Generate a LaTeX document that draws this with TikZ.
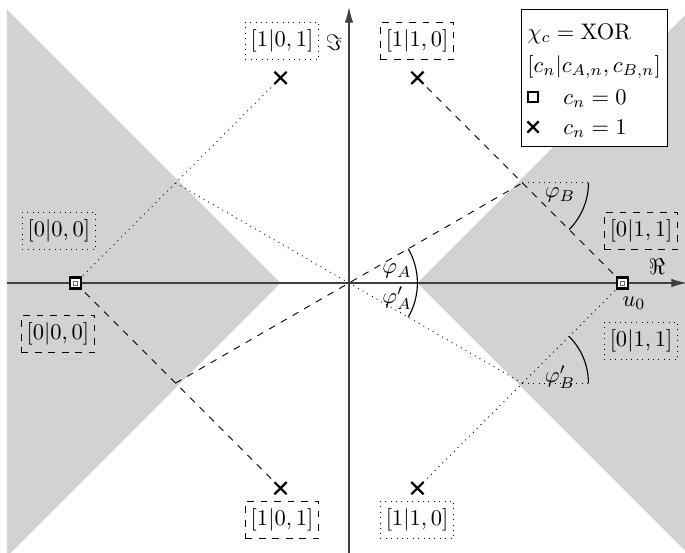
\documentclass[tikz,border=0pt]{standalone}
\usetikzlibrary{arrows.meta,shapes.misc}
\begin{document}
\begin{tikzpicture}[x=0.4444pt,y=0.4444pt,
  axisline/.style={black!75,line width=0.6pt,-{Latex[length=7pt,width=3.8pt]}},
  sqmark/.style={draw,line width=1.1pt,minimum size=5pt,inner sep=0pt,fill=white,
    path picture={\draw[line width=0.3pt,black!60] ([shift={(-0.9pt,-0.9pt)}]path picture bounding box.center) rectangle ([shift={(0.9pt,0.9pt)}]path picture bounding box.center);}},
  xmark/.style={cross out,draw,line width=1pt,minimum size=4.4pt,inner sep=0pt},
  legsq/.style={draw,line width=1pt,minimum size=4.4pt,inner sep=0pt},
  legx/.style={cross out,draw,line width=1pt,minimum size=4pt,inner sep=0pt},
  lbl/.style={inner xsep=2.4pt,inner ysep=3.3pt},
  dotbox/.style={lbl,draw,dotted},
  dashbox/.style={lbl,draw,dashed},
  angarc/.style={line width=0.5pt}
]
\useasboundingbox (-349,-269) rectangle (336,283);
\clip (-349,-269) rectangle (336,283);
% shaded regions
\fill[gray!35] (-68.4,0) -- (-342,273.6) -- (-342,-273.6) -- cycle;
\fill[gray!35] (68.4,0) -- (342,273.6) -- (342,-273.6) -- cycle;
% axes
\coordinate (O) at (0,0);
\coordinate (xs) at (-342,0);
\coordinate (xe) at (338,0);
\coordinate (ys) at (0,-274);
\coordinate (ye) at (0,276);
\draw[axisline] (xs) -- (xe);
\draw[axisline] (ys) -- (ye);
% points
\coordinate (S0) at (-273.6,0);
\coordinate (U0) at (273.6,0);
\coordinate (C1) at (-68.4,205.2);
\coordinate (C2) at (68.4,205.2);
\coordinate (C3) at (-68.4,-205.2);
\coordinate (C4) at (68.4,-205.2);
\coordinate (P1) at (-173.45,-100.14);
\coordinate (P2) at (173.45,100.14);
\coordinate (P3) at (-173.45,100.14);
\coordinate (P4) at (173.45,-100.14);
% connectors
\draw[dotted] (S0) -- (C1);
\draw[dashed] (S0) -- (C3);
\draw[dashed] (C2) -- (U0);
\draw[dotted] (U0) -- (C4);
\draw[dashed] (P1) -- (P2);
\draw[dotted] (P3) -- (P4);
% angles
\draw[angarc] (O) ++(-30:68.4) arc (-30:30:68.4);
\draw[dotted] (P2) -- ++(66,0) coordinate (P2h);
\draw[angarc] (P2h) arc (0:-45:66);
\draw[dotted] (P4) -- ++(66,0) coordinate (P4h);
\draw[angarc] (P4h) arc (0:45:66);
\node (phiA) at (48,12) {$\varphi_A$};
\node (phiAp) at (48,-15) {$\varphi'_A$};
\node (phiB) at (211,88) {$\varphi_B$};
\node (phiBp) at (211,-94) {$\varphi'_B$};
% markers
\node[sqmark] (m0) at (S0) {};
\node[sqmark] (m1) at (U0) {};
\node[xmark] (x1) at (C1) {};
\node[xmark] (x2) at (C2) {};
\node[xmark] (x3) at (C3) {};
\node[xmark] (x4) at (C4) {};
% labels
\node[dotbox] (b1) at (-67,242) {$[1|0,1]$};
\node[dashbox] (b2) at (68,242) {$[1|1,0]$};
\node[dotbox] (b3) at (-290,52) {$[0|0,0]$};
\node[dashbox] (b4) at (-291,-51) {$[0|0,0]$};
\node[dashbox] (b5) at (292,52) {$[0|1,1]$};
\node[dotbox] (b6) at (292,-58) {$[0|1,1]$};
\node[dashbox] (b7) at (-67,-237) {$[1|0,1]$};
\node[dotbox] (b8) at (68,-237) {$[1|1,0]$};
\node (imlab) at (-15,240) {$\Im$};
\node (relab) at (308,16) {$\Re$};
\node (u0lab) at (285,-20) {$u_0$};
% legend
\node[draw,fill=white,line width=0.5pt,minimum width=64.9pt,minimum height=60.9pt,anchor=north west,inner sep=0pt] (leg) at (172,274) {};
\node[anchor=west,inner sep=0pt] (l1) at (178,249) {$\chi_c=\mathrm{XOR}$};
\node[anchor=west,inner sep=0pt] (l2) at (178,216) {$[c_n|c_{A,n},c_{B,n}]$};
\node[legsq] (lsq) at (184,186) {};
\node[anchor=west,inner sep=0pt] (l3) at (214,184) {$c_n=0$};
\node[legx] (lx) at (184,156) {};
\node[anchor=west,inner sep=0pt] (l4) at (214,154) {$c_n=1$};
\end{tikzpicture}
\end{document}
